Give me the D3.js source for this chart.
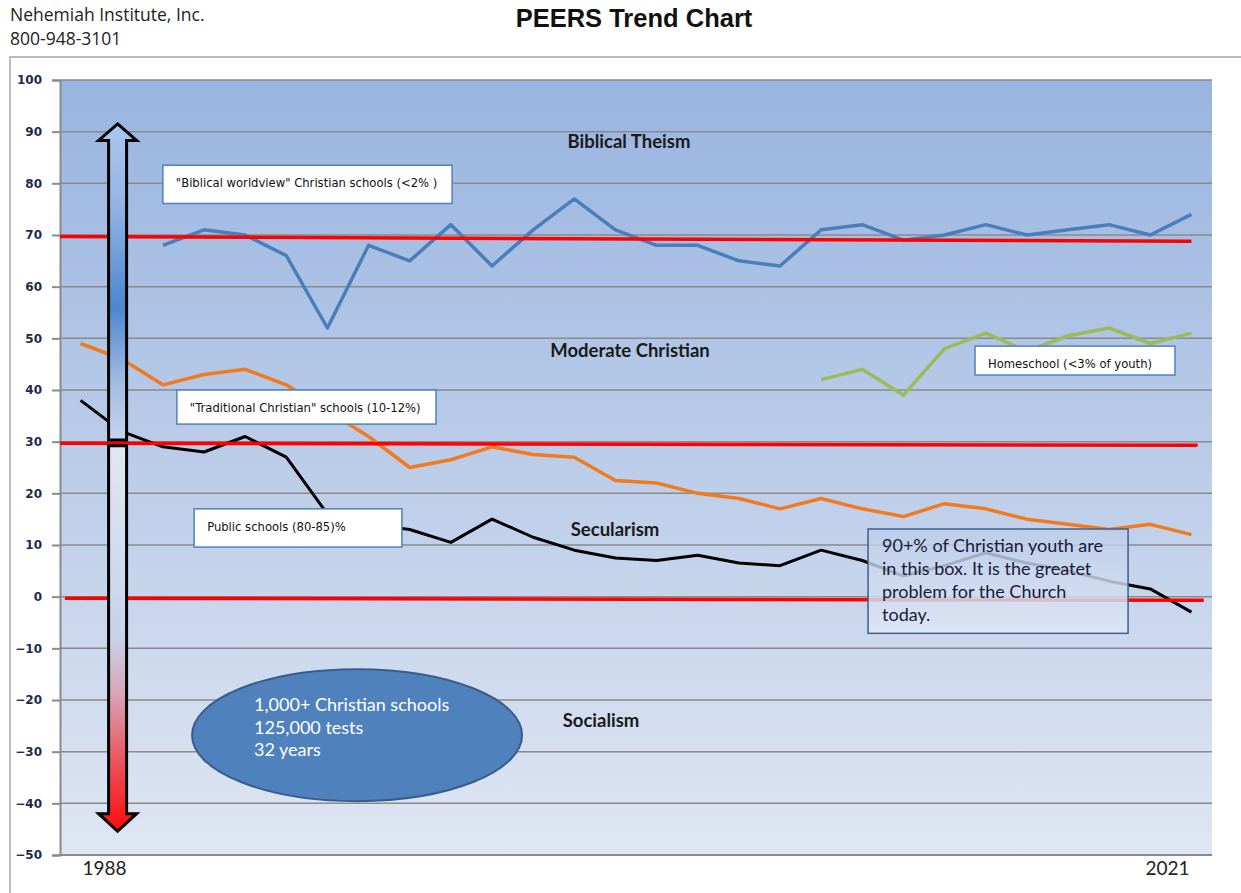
<!DOCTYPE html>
<html>
<head>
<meta charset="utf-8">
<title>PEERS Trend Chart</title>
<script src="https://cdn.jsdelivr.net/npm/d3@7"></script>
<style>
  body { margin: 0; background: #fff; }
  svg { display: block; }
</style>
</head>
<body>
<div id="container"></div>
<script>
// one point per test period, first = 1988, last = 2021
var periods = d3.range(28);
var xLabels = ["1988", "2021"];
var yTicks = [-50, -40, -30, -20, -10, 0, 10, 20, 30, 40, 50, 60, 70, 80, 90, 100];

var biblical = [null, null, 68, 71, 70, 66, 52, 68, 65, 72, 64, 71, 77, 71, 68, 68, 65, 64, 71, 72, 69, 70, 72, 70, 71, 72, 70, 74];
var traditional = [49, 46, 41, 43, 44, 41, 36, 31, 25, 26.5, 29, 27.5, 27, 22.5, 22, 20, 19, 17, 19, 17, 15.5, 18, 17, 15, 14, 13, 14, 12];
var publicSchools = [38, 32, 29, 28, 31, 27, 16, 14, 13, 10.5, 15, 11.5, 9, 7.5, 7, 8, 6.5, 6, 9, 7, 4, 6, 8.5, 6.5, 5, 3, 1.5, -3];
var homeschool = [null, null, null, null, null, null, null, null, null, null, null, null, null, null, null, null, null, null, 42, 44, 39, 48, 51, 47.5, 50.5, 52, 49, 51];

// hand drawn red boundaries (value at left end, value at right end)
var boundaries = [[69.7, 68.8], [29.7, 29.3], [-0.3, -0.7]];
var zones = ["Biblical Theism", "Moderate Christian", "Secularism", "Socialism"];
var zoneValues = [87, 46.5, 12, -25];

var margin = {top: 80, right: 29, bottom: 38, left: 60},
    width = 1241 - margin.left - margin.right,
    height = 893 - margin.top - margin.bottom;

var svg = d3.select("#container").append("svg")
    .attr("width", 1241)
    .attr("height", 893)
    .style("font-family", "Lato, 'Open Sans', sans-serif");

var defs = svg.append("defs");

var bg = defs.append("linearGradient").attr("id", "bg").attr("x1", 0).attr("y1", 0).attr("x2", 0).attr("y2", 1);
bg.append("stop").attr("offset", "0%").attr("stop-color", "#98b4e0");
bg.append("stop").attr("offset", "50%").attr("stop-color", "#bccde9");
bg.append("stop").attr("offset", "100%").attr("stop-color", "#dfe6f3");

var xScale = d3.scaleLinear().domain([-0.5, 27.5]).range([0, width]);
var yScale = d3.scaleLinear().domain([-50, 100]).range([height, 0]);

// header
svg.append("text").attr("x", 10).attr("y", 21).attr("font-size", 17.5).attr("fill", "#222")
    .style("font-family", "'Open Sans', sans-serif").text("Nehemiah Institute, Inc.");
svg.append("text").attr("x", 10).attr("y", 45).attr("font-size", 17.5).attr("fill", "#222")
    .style("font-family", "'Open Sans', sans-serif").text("800-948-3101");
svg.append("text").attr("x", 634).attr("y", 27).attr("text-anchor", "middle")
    .attr("font-size", 25.5).attr("font-weight", "bold").attr("fill", "#111")
    .style("font-family", "'Liberation Sans', Arial, sans-serif").text("PEERS Trend Chart");

// outer frame
svg.append("rect").attr("x", 10).attr("y", 57).attr("width", 1260).attr("height", 900)
    .attr("fill", "none").attr("stroke", "#a6a6a6").attr("stroke-width", 1.5);

var group = svg.append("g").attr("transform", "translate(" + margin.left + "," + margin.top + ")");

group.append("rect").attr("width", width).attr("height", height).attr("fill", "url(#bg)");

// gridlines
group.append("g").selectAll("line").data(yTicks).enter().append("line")
    .attr("x1", 0).attr("x2", width)
    .attr("y1", d => yScale(d)).attr("y2", d => yScale(d))
    .attr("stroke", "#8a8a8a").attr("stroke-width", 1.5);

var yAxis = d3.axisLeft(yScale).tickValues(yTicks).tickSize(8).tickPadding(10);
group.append("g").attr("class", "y-ax").call(yAxis);
group.append("line").attr("x1", 0).attr("x2", width).attr("y1", height).attr("y2", height)
    .attr("stroke", "#8a8a8a").attr("stroke-width", 2);

d3.selectAll(".y-ax .domain, .y-ax .tick line").attr("stroke", "#8a8a8a").attr("stroke-width", 2);
d3.selectAll(".y-ax .tick text")
    .attr("fill", "#1c2b4a").attr("font-size", 12).attr("font-weight", "bold")
    .style("font-family", "'DejaVu Sans', Verdana, sans-serif");

// x labels only at the two ends
group.append("text").attr("x", xScale(0) + 24).attr("y", height + 20).attr("text-anchor", "middle")
    .attr("font-size", 19).attr("fill", "#222").text(xLabels[0]);
group.append("text").attr("x", xScale(27) - 24).attr("y", height + 20).attr("text-anchor", "middle")
    .attr("font-size", 19).attr("fill", "#222").text(xLabels[1]);

var nline = d3.line()
    .defined(d => d != null)
    .x((d, i) => xScale(periods[i]))
    .y(d => yScale(d));

var series = [
  {vals: traditional, color: "#f07a1e", w: 3.5},
  {vals: publicSchools, color: "#000000", w: 3},
  {vals: biblical, color: "#4a7ebb", w: 3.5},
  {vals: homeschool, color: "#9bbb59", w: 3.5}
];
series.forEach(function(s) {
  group.append("path").datum(s.vals)
      .attr("d", nline)
      .attr("fill", "none")
      .attr("stroke", s.color)
      .attr("stroke-width", s.w)
      .attr("stroke-linejoin", "round");
});

// red boundary lines
var ends = [[-0.5, 27.0], [-0.5, 27.15], [-0.38, 27.3]];
boundaries.forEach(function(b, i) {
  group.append("line")
      .attr("x1", xScale(ends[i][0])).attr("x2", xScale(ends[i][1]))
      .attr("y1", yScale(b[0])).attr("y2", yScale(b[1]))
      .attr("stroke", "#ff0000").attr("stroke-width", 3.5);
});

// zone names
zones.forEach(function(z, i) {
  group.append("text")
      .attr("x", [569, 570, 555, 541][i])
      .attr("y", yScale(zoneValues[i]) + 1)
      .attr("text-anchor", "middle")
      .attr("font-size", 18.5).attr("font-weight", "bold").attr("fill", "#1a1a1a")
      .text(z);
});

// small label boxes
function labelBox(i0, i1, v0, v1, txt) {
  var x0 = xScale(i0), y0 = yScale(v0);
  group.append("rect").attr("x", x0).attr("y", y0)
      .attr("width", xScale(i1) - x0).attr("height", yScale(v1) - y0)
      .attr("fill", "#fff").attr("stroke", "#4f81bd").attr("stroke-width", 1.5);
  group.append("text").attr("x", x0 + 13).attr("y", y0 + 22)
      .attr("font-size", 11.6).attr("fill", "#111")
      .style("font-family", "'DejaVu Sans', Verdana, sans-serif")
      .text(txt);
}
labelBox(2.0, 9.03, 83.5, 76.1, "\"Biblical worldview\" Christian schools (<2% )");
labelBox(2.34, 8.64, 40.0, 33.4, "\"Traditional Christian\" schools (10-12%)");
labelBox(2.76, 7.81, 17.0, 9.6, "Public schools (80-85)%");
labelBox(21.74, 26.6, 48.5, 42.9, "Homeschool (<3% of youth)");

// big translucent box
var bx = xScale(19.14), by = yScale(13.1);
var boxGrad = defs.append("linearGradient").attr("id", "boxg").attr("x1", 0).attr("y1", 0).attr("x2", 0).attr("y2", 1);
boxGrad.append("stop").attr("offset", "0%").attr("stop-color", "#bccdea").attr("stop-opacity", 0.8);
boxGrad.append("stop").attr("offset", "100%").attr("stop-color", "#dfe7f4").attr("stop-opacity", 0.85);
group.append("rect").attr("x", bx).attr("y", by)
    .attr("width", xScale(25.46) - bx).attr("height", yScale(-7.1) - by)
    .attr("fill", "url(#boxg)").attr("stroke", "#3d5f8f").attr("stroke-width", 1.5);
["90+% of Christian youth are", "in this box. It is the greatet", "problem for the Church", "today."].forEach(function(t, i) {
  group.append("text").attr("x", bx + 14).attr("y", by + 23 + i * 23)
      .attr("font-size", 18).attr("fill", "#1a1a3a").text(t);
});

// ellipse
var ex = xScale(6.72), ey = yScale(-26.8);
group.append("ellipse").attr("cx", ex).attr("cy", ey).attr("rx", 165).attr("ry", 66)
    .attr("fill", "#4f81bd").attr("stroke", "#385d8a").attr("stroke-width", 2);
["1,000+ Christian schools", "125,000 tests", "32 years"].forEach(function(t, i) {
  group.append("text").attr("x", ex - 103).attr("y", ey - 24 + i * 22.5)
      .attr("font-size", 18).attr("fill", "#fff").text(t);
});

// double arrow
var up = defs.append("linearGradient").attr("id", "upg").attr("gradientUnits", "userSpaceOnUse")
    .attr("x1", 0).attr("y1", yScale(91.5)).attr("x2", 0).attr("y2", yScale(30.3));
up.append("stop").attr("offset", "0%").attr("stop-color", "#a9c6ee");
up.append("stop").attr("offset", "25%").attr("stop-color", "#94b5e4");
up.append("stop").attr("offset", "58%").attr("stop-color", "#4c86d0");
up.append("stop").attr("offset", "80%").attr("stop-color", "#9db9e0");
up.append("stop").attr("offset", "100%").attr("stop-color", "#c6d5ec");

var dn = defs.append("linearGradient").attr("id", "dng").attr("gradientUnits", "userSpaceOnUse")
    .attr("x1", 0).attr("y1", yScale(29.2)).attr("x2", 0).attr("y2", yScale(-45.4));
dn.append("stop").attr("offset", "0%").attr("stop-color", "#e0e7f3");
dn.append("stop").attr("offset", "50%").attr("stop-color", "#c6d2ea");
dn.append("stop").attr("offset", "64%").attr("stop-color", "#d7a6b8");
dn.append("stop").attr("offset", "80%").attr("stop-color", "#e85c66");
dn.append("stop").attr("offset", "100%").attr("stop-color", "#ff0a0a");

var ax = xScale(0.9), sw = 9, hw = 19;
function arrowPath(tip, base, end) {
  var t = yScale(tip), b = yScale(base), e = yScale(end);
  return "M" + ax + "," + t + "L" + (ax + hw) + "," + b + "L" + (ax + sw) + "," + b +
         "L" + (ax + sw) + "," + e + "L" + (ax - sw) + "," + e + "L" + (ax - sw) + "," + b +
         "L" + (ax - hw) + "," + b + "Z";
}
group.append("path").attr("d", arrowPath(91.5, 88.3, 30.3))
    .attr("fill", "url(#upg)").attr("stroke", "#000").attr("stroke-width", 3).attr("stroke-linejoin", "miter");
group.append("path").attr("d", arrowPath(-45.4, -42.0, 29.2))
    .attr("fill", "url(#dng)").attr("stroke", "#000").attr("stroke-width", 3).attr("stroke-linejoin", "miter");
</script>
</body>
</html>
